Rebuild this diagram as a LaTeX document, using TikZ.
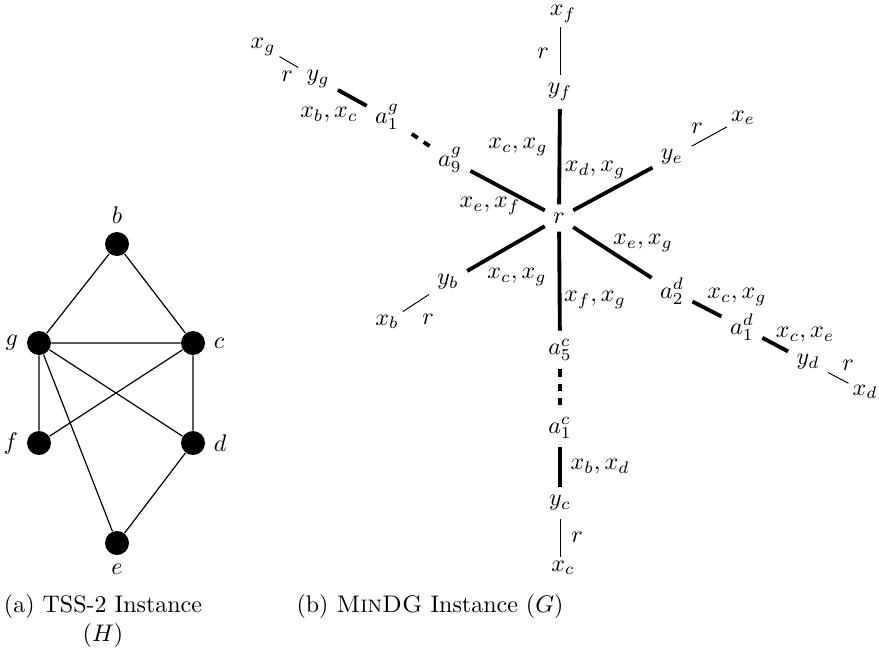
\documentclass[tikz,border=0pt]{standalone}
\begin{document}
\begin{tikzpicture}[x=0.4167pt,y=-0.4167pt,
  vtx/.style={circle,fill=black,inner sep=0pt,minimum size=10pt},
  gedge/.style={line width=0.5pt},
  thk/.style={line width=1.6pt},
  thn/.style={line width=0.4pt},
  dsh/.style={line width=1.6pt,dashed},
  xnd/.style={inner sep=1.5pt},
  elbl/.style={inner sep=0pt}]
\useasboundingbox (0,0) rectangle (879,651);
% left graph H
\node[vtx,label=above:$b$] (b) at (117,244) {};
\node[vtx,label=left:$g$] (g) at (39,343) {};
\node[vtx,label=right:$c$] (c) at (193,343) {};
\node[vtx,label=left:$f$] (f) at (39,443) {};
\node[vtx,label=right:$d$] (d) at (193,443) {};
\node[vtx,label=below:$e$] (e) at (117,543) {};
\draw[gedge] (b)--(g) (b)--(c) (g)--(c) (g)--(f) (g)--(d) (g)--(e)
             (c)--(f) (c)--(d) (d)--(e);
% right graph G
\node (r) at (559,218) {$r$};
\node (yf) at (560,92) {$y_f$};
\node[xnd] (xf) at (563,14) {$x_f$};
\node (ye) at (672,157) {$y_e$};
\node[xnd] (xe) at (743,118) {$x_e$};
\node (a9g) at (450,160) {$a_9^g$};
\node (a1g) at (387,117) {$a_1^g$};
\node (yg) at (318,79) {$y_g$};
\node[xnd] (xg) at (263,47) {$x_g$};
\node (yb) at (448,282) {$y_b$};
\node[xnd] (xb) at (387,322) {$x_b$};
\node (a5c) at (560,350) {$a_5^c$};
\node (a1c) at (560,428) {$a_1^c$};
\node (yc) at (560,503) {$y_c$};
\node[xnd] (xc) at (563,568) {$x_c$};
\node (a2d) at (672,291) {$a_2^d$};
\node (a1d) at (742,327) {$a_1^d$};
\node (yd) at (808,362) {$y_d$};
\node[xnd] (xd) at (865,392) {$x_d$};
\draw[thk] (r)--(yf);
\draw[thn] (yf)--(yf |- xf.south);
\draw[thk] (r)--(ye);
\draw[thn] (ye)--(xe);
\draw[thk] (r)--(a9g);
\draw[dsh] (a9g)--(a1g);
\draw[thk] (a1g)--(yg);
\draw[thn] (yg)--(xg);
\draw[thk] (r)--(yb);
\draw[thn] (yb)--(xb);
\draw[thk] (r)--(a5c);
\draw[dsh] (a5c)--(a1c);
\draw[thk] (a1c)--(yc);
\draw[thn] (yc)--(yc |- xc.north);
\draw[thk] (r)--(a2d);
\draw[thk] (a2d)--(a1d);
\draw[thk] (a1d)--(yd);
\draw[thn] (yd)--(xd);
% edge labels
\node[elbl] (l1) at (518,147) {$x_c, x_g$};
\node[elbl] (l2) at (595,170) {$x_d, x_g$};
\node[elbl] (l3) at (490,206) {$x_e, x_f$};
\node[elbl] (l4) at (643,243) {$x_e, x_g$};
\node[elbl] (l5) at (517,277) {$x_c, x_g$};
\node[elbl] (l6) at (595,300) {$x_f, x_g$};
\node[elbl] (l7) at (329,115) {$x_b, x_c$};
\node[elbl] (l8) at (737,297) {$x_c, x_g$};
\node[elbl] (l9) at (805,335) {$x_c, x_e$};
\node[elbl] (l10) at (600,467) {$x_b, x_d$};
\node[elbl] (r1) at (543,53) {$r$};
\node[elbl] (r2) at (697,128) {$r$};
\node[elbl] (r3) at (287,76) {$r$};
\node[elbl] (r4) at (428,319) {$r$};
\node[elbl] (r5) at (577,537) {$r$};
\node[elbl] (r6) at (848,365) {$r$};
% captions
\node[align=center,anchor=north,inner sep=0pt] (capa) at (103,594) {(a) TSS-2 Instance\\$(H)$};
\node[anchor=base,inner sep=0pt] (capb) at (430,612) {(b) \textsc{MinDG} Instance $(G)$};
\end{tikzpicture}
\end{document}
